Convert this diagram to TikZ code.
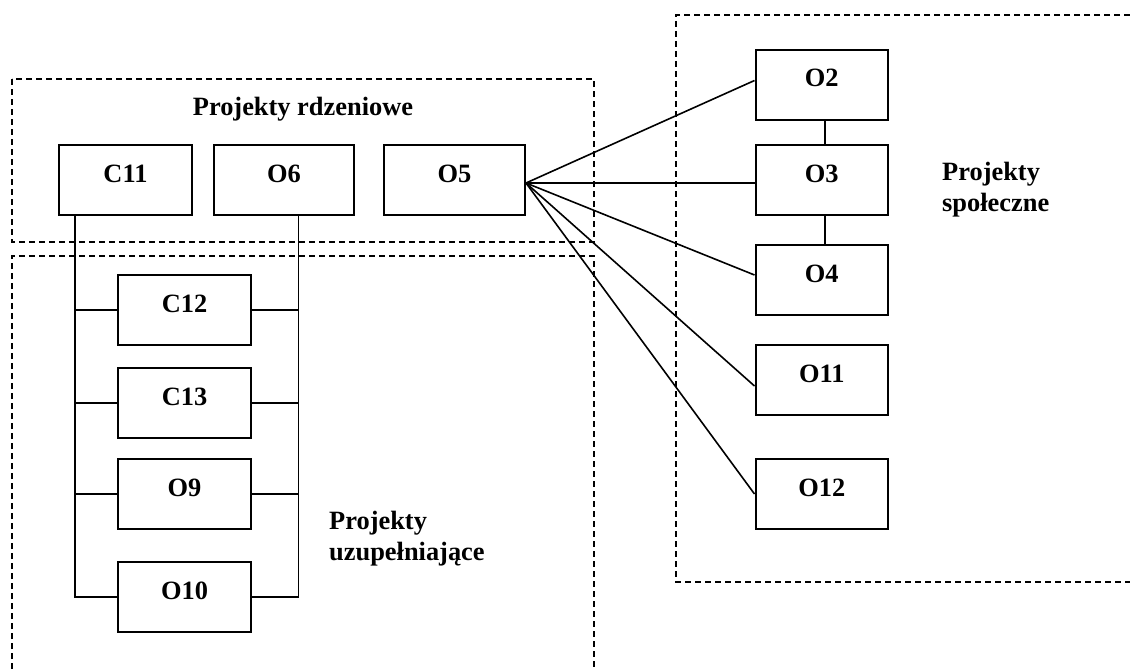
\documentclass[tikz,border=0pt]{standalone}
\usepackage{fontspec}
\setmainfont{Liberation Serif}
\begin{document}
\begin{tikzpicture}[x=1pt,y=-1pt,
  every node/.style={font=\fontsize{26.4}{31}\selectfont\bfseries},
  box/.style={draw, line width=2pt, rectangle, inner sep=0pt, anchor=north, text height=37pt, text depth=33pt},
  link/.style={line width=1.6pt},
  zone/.style={dash pattern=on 6pt off 4pt, line width=1.5pt},
  title/.style={inner sep=0pt, align=left}]
\useasboundingbox (0,0) rectangle (1130,669);

% zones
\draw[zone] (12,79) rectangle (594,242);
\draw[zone] (12,669) -- (12,256) -- (594,256) -- (594,669);
\draw[zone] (1130,15) -- (676,15) -- (676,582) -- (1130,582);

% titles
\node[title, anchor=base] (t1) at (303,115) {Projekty rdzeniowe};
\node[title, anchor=north west] (t2) at (329,511) {Projekty\\uzupełniające};
\node[title, anchor=north west] (t3) at (942,162) {Projekty\\społeczne};

% core boxes
\node[box, minimum width=133pt] (C11) at (125.5,144) {C11};
\node[box, minimum width=140pt] (O6) at (284,144) {O6};
\node[box, minimum width=141pt] (O5) at (454.5,144) {O5};

% complementary boxes
\node[box, minimum width=133pt] (C12) at (184.5,274) {C12};
\node[box, minimum width=133pt] (C13) at (184.5,367) {C13};
\node[box, minimum width=133pt] (O9) at (184.5,458) {O9};
\node[box, minimum width=133pt] (O10) at (184.5,561) {O10};

% social boxes
\node[box, minimum width=132.5pt] (O2) at (821.75,49) {O2};
\node[box, minimum width=132.5pt] (O3) at (821.75,144) {O3};
\node[box, minimum width=132.5pt] (O4) at (821.75,244) {O4};
\node[box, minimum width=132.5pt] (O11) at (821.75,344) {O11};
\node[box, minimum width=132.5pt] (O12) at (821.75,458) {O12};

% spines
\coordinate (sl) at ([xshift=17pt]C11.south west);
\coordinate (sr) at ([xshift=14.5pt]O6.south);
\draw[link] (sl) |- (O10.west);
\draw[link] (sr) |- (O10.east);
\foreach \n in {C12,C13,O9} {
  \draw[link] (\n.west) -- (\n.west -| sl);
  \draw[link] (\n.east) -- (\n.east -| sr);
}

% fan from O5
\coordinate (fan) at ([yshift=-3pt]O5.east);
\draw[link] (fan) -- ([yshift=4.5pt]O2.west);
\draw[link] (fan) -- ([yshift=-3pt]O3.west);
\draw[link] (fan) -- ([yshift=5pt]O4.west);
\draw[link] (fan) -- ([yshift=-6pt]O11.west);
\draw[link] (fan) -- (O12.west);

% chain
\draw[link] ([xshift=3pt]O2.south) -- ([xshift=3pt]O3.north);
\draw[link] ([xshift=3pt]O3.south) -- ([xshift=3pt]O4.north);
\end{tikzpicture}
\end{document}
